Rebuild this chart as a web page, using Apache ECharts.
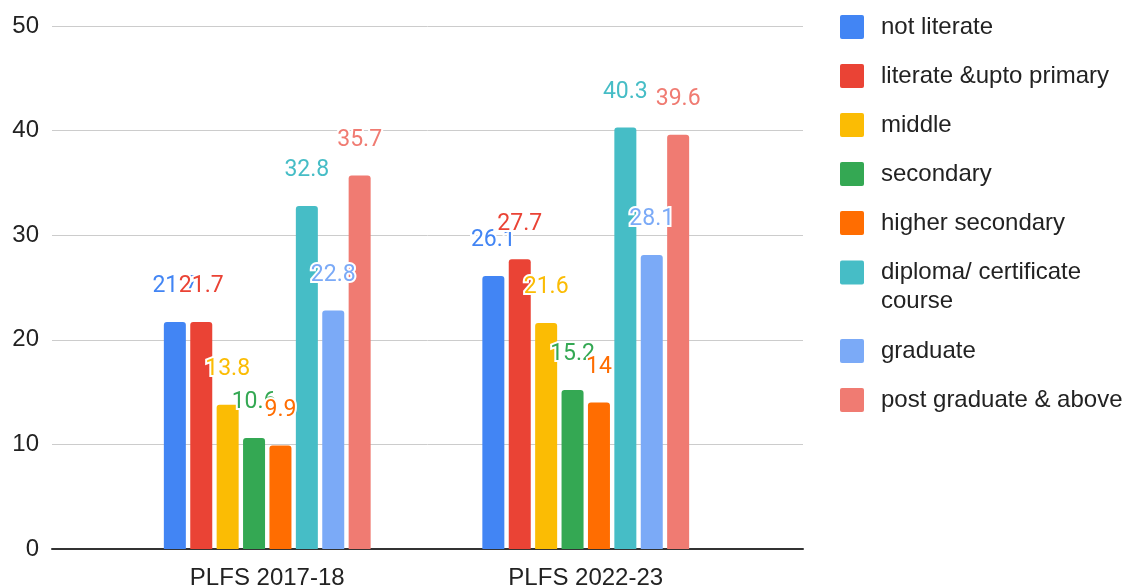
<!DOCTYPE html>
<html>
<head>
<meta charset="UTF-8">
<script src="https://cdn.jsdelivr.net/npm/echarts@6/dist/echarts.min.js"></script>
<style>
    html, body { margin: 0; padding: 0; background: #fff; }
    #chart { width: 1139px; height: 587px; }
</style>
</head>
<body>
<div id="chart"></div>
<script>
    // data
    var categories = ['PLFS 2017-18', 'PLFS 2022-23'];
    var seriesNames = ['not literate', 'literate &upto primary', 'middle', 'secondary',
        'higher secondary', 'diploma/ certificate course', 'graduate', 'post graduate & above'];
    var notLiterate = [21.7, 26.1];
    var literatePrimary = [21.7, 27.7];
    var middle = [13.8, 21.6];
    var secondary = [10.6, 15.2];
    var higherSecondary = [9.9, 14];
    var diploma = [32.8, 40.3];
    var graduate = [22.8, 28.1];
    var postGraduate = [35.7, 39.6];
    var yTicks = [0, 10, 20, 30, 40, 50];

    var colors = ['#4285F4', '#EA4335', '#FBBC04', '#34A853', '#FF6D01', '#46BDC6', '#7BAAF7', '#F07B72'];
    var values = [notLiterate, literatePrimary, middle, secondary, higherSecondary, diploma, graduate, postGraduate];

    var chart = echarts.init(document.getElementById('chart'));

    var series = [];
    for (var i = 0; i < values.length; i++) {
        series.push({
            name: seriesNames[i],
            type: 'bar',
            xAxisIndex: 1,
            yAxisIndex: 1,
            data: values[i],
            barWidth: 22,
            barGap: '20%',
            itemStyle: { color: colors[i], borderRadius: [3, 3, 0, 0] },
            label: {
                show: true,
                position: 'top',
                distance: 24,
                color: colors[i],
                fontFamily: 'Roboto',
                fontSize: 23,
                textBorderColor: '#fff',
                textBorderWidth: 4
            }
        });
    }

    function legendAt(top, names, textStyle, formatter) {
        var lg = {
            orient: 'vertical',
            left: 835,
            top: top,
            data: names,
            itemWidth: 24,
            itemHeight: 24,
            itemGap: 25,
            icon: 'path://M2,0 L22,0 Q24,0 24,2 L24,22 Q24,24 22,24 L2,24 Q0,24 0,22 L0,2 Q0,0 2,0 Z',
            textStyle: textStyle
        };
        if (formatter) lg.formatter = formatter;
        return lg;
    }

    var plainText = { color: '#222', fontFamily: 'Liberation Sans', fontSize: 24, lineHeight: 24, padding: [0, 0, 0, 12] };
    // two-line item: first line level with the icon
    var wrapText = {
        color: '#222', fontFamily: 'Liberation Sans', fontSize: 24, lineHeight: 29, padding: [29, 0, 0, 12],
        rich: { a: { color: '#222', fontFamily: 'Liberation Sans', fontSize: 24, lineHeight: 29 } }
    };

    chart.setOption({
        animation: false,
        color: colors,
        grid: [
            { left: 52, right: 336, top: 26, bottom: 38, outerBoundsMode: 'none' },
            { left: 108, right: 394, top: 26, bottom: 38, outerBoundsMode: 'none' }
        ],
        legend: [
            legendAt(10, seriesNames.slice(0, 5), plainText),
            legendAt(224, [seriesNames[5]], wrapText, function () {
                return '{a|diploma/ certificate}\n{a|course}';
            }),
            legendAt(334, seriesNames.slice(6), plainText)
        ],
        xAxis: [
            {
                type: 'value', gridIndex: 0, min: 0, max: 1,
                axisLine: { show: true, lineStyle: { color: '#333', width: 2 } },
                axisTick: { show: false }, axisLabel: { show: false }, splitLine: { show: false }
            },
            {
                type: 'category', gridIndex: 1, data: categories,
                axisLine: { show: false }, axisTick: { show: false },
                axisLabel: { color: '#222', fontFamily: 'Liberation Sans', fontSize: 24, margin: 17 }
            }
        ],
        yAxis: [
            {
                type: 'value', gridIndex: 0, min: yTicks[0], max: yTicks[yTicks.length - 1], interval: 10,
                axisLine: { show: false }, axisTick: { show: false },
                axisLabel: { color: '#222', fontFamily: 'Liberation Sans', fontSize: 24, margin: 13 },
                splitLine: { lineStyle: { color: '#ccc', width: 1 } }
            },
            {
                type: 'value', gridIndex: 1, min: yTicks[0], max: yTicks[yTicks.length - 1], show: false,
                splitLine: { show: false }
            }
        ],
        series: series
    });
</script>
</body>
</html>
